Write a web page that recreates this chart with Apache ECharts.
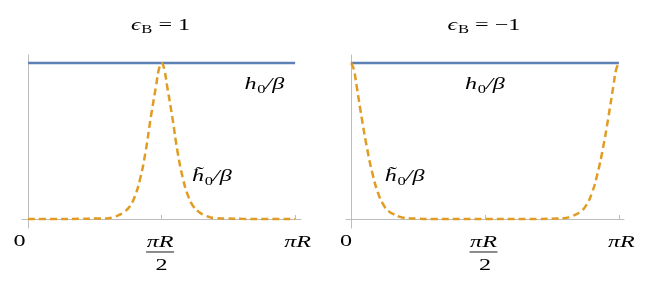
<!DOCTYPE html>
<html><head><meta charset="utf-8">
<script src="https://cdn.jsdelivr.net/npm/echarts@6/dist/echarts.min.js"></script>
<style>html,body{margin:0;padding:0;background:#fff}#c{width:654px;height:282px}</style>
</head><body><div id="c"></div>
<script>
// x in units of πR, y in units of h0/β
const xTickValues = [0, 0.5, 1];
const xTickLabels = ['0', 'πR/2', 'πR'];
const panelTitles = ['1', '−1'];
const h0X = [0, 1];
const h0Y = [1, 1];
const leftX = [0, 0.1, 0.2, 0.26, 0.3, 0.32, 0.34, 0.36, 0.38, 0.40, 0.42, 0.44, 0.46, 0.48, 0.49, 0.5, 0.51, 0.52, 0.54, 0.56, 0.58, 0.6, 0.62, 0.64, 0.66, 0.68, 0.7, 0.74, 0.8, 0.9, 1];
const leftTilde = [0, 0, 0.001, 0.003, 0.005, 0.012, 0.025, 0.045, 0.078, 0.145, 0.26, 0.43, 0.655, 0.86, 0.96, 1, 0.96, 0.86, 0.655, 0.43, 0.26, 0.145, 0.078, 0.045, 0.025, 0.012, 0.005, 0.003, 0.001, 0, 0];
const rightX = [0, 0.01, 0.02, 0.04, 0.06, 0.08, 0.10, 0.12, 0.14, 0.16, 0.18, 0.2, 0.25, 0.3, 0.5, 0.7, 0.75, 0.8, 0.82, 0.84, 0.86, 0.88, 0.9, 0.92, 0.94, 0.96, 0.98, 0.99, 1];
const rightTilde = [1, 0.96, 0.86, 0.645, 0.45, 0.29, 0.17, 0.093, 0.05, 0.03, 0.015, 0.007, 0.002, 0, 0, 0, 0.002, 0.007, 0.015, 0.03, 0.05, 0.093, 0.17, 0.29, 0.45, 0.645, 0.86, 0.96, 1];

const SERIF = "'Liberation Serif','DejaVu Serif',serif";
const TXT = '#1a1a1a';
const AX = '#bdbdbd';
const BLUE = '#5E81B5';
const ORANGE = '#E19C24';
const SX = 1.38;   // reference typesetting is horizontally wide
const FS = 17.5;
const zip = (xs, ys) => xs.map((x, i) => [x, ys[i]]);

const chart = echarts.init(document.getElementById('c'), null, {renderer: 'canvas'});

function xAxisFor(gi, min, max) {
  return {
    type: 'value', gridIndex: gi, min: min, max: max,
    axisLine: {show: true, onZero: true, lineStyle: {color: AX, width: 1}},
    axisTick: {show: true, inside: true, length: 4, customValues: [0.5, 1], lineStyle: {color: AX}},
    splitLine: {show: false},
    axisLabel: {show: false}
  };
}
function yAxisFor(gi) {
  return {
    type: 'value', gridIndex: gi, min: -0.0577, max: 1.0513,
    axisLine: {show: true, onZero: true, lineStyle: {color: AX, width: 1}},
    axisTick: {show: false}, axisLabel: {show: false}, splitLine: {show: false}
  };
}

chart.setOption({
  animation: false,
  backgroundColor: '#fff',
  grid: [
    {left: 22, top: 55, width: 279, height: 173, containLabel: false},
    {left: 346, top: 55, width: 278, height: 173, containLabel: false}
  ],
  xAxis: [xAxisFor(0, -0.0225, 1.022), xAxisFor(1, -0.019, 1.019)],
  yAxis: [yAxisFor(0), yAxisFor(1)],
  series: [
    {type: 'line', xAxisIndex: 0, yAxisIndex: 0, data: zip(h0X, h0Y), showSymbol: false, lineStyle: {color: BLUE, width: 2.4}},
    {type: 'line', xAxisIndex: 0, yAxisIndex: 0, data: zip(leftX, leftTilde), showSymbol: false, smooth: true,
     lineStyle: {color: ORANGE, width: 2.5, type: [7, 4]}},
    {type: 'line', xAxisIndex: 1, yAxisIndex: 1, data: zip(h0X, h0Y), showSymbol: false, lineStyle: {color: BLUE, width: 2.4}},
    {type: 'line', xAxisIndex: 1, yAxisIndex: 1, data: zip(rightX, rightTilde), showSymbol: false, smooth: true,
     lineStyle: {color: ORANGE, width: 2.5, type: [7, 4]}}
  ]
});

// ---- text (tick labels, titles, curve labels), placed from the axes' own scales ----
const rich = {
  i: {fontFamily: SERIF, fontStyle: 'italic', fontWeight: 'normal', fontSize: FS, lineHeight: 22, color: TXT},
  u: {fontFamily: SERIF, fontWeight: 'normal', fontSize: FS, lineHeight: 22, color: TXT},
  s: {fontFamily: SERIF, fontWeight: 'normal', fontSize: 12, lineHeight: 12, verticalAlign: 'bottom', color: TXT, padding: [0, 0, 0, 0.5]}
};
function txt(x, y, text) {
  return {type: 'text', x: x, y: y, scaleX: SX, silent: true,
          style: {text: text, rich: rich, align: 'center', verticalAlign: 'middle'}};
}
const px = (gi, xv, yv) => chart.convertToPixel({xAxisIndex: gi, yAxisIndex: gi}, [xv, yv]);
const graphics = [];
[0, 1].forEach(gi => {
  const base = px(gi, 0, 0);
  xTickValues.forEach((v, k) => {
    const s = xTickLabels[k];
    const p = px(gi, v, 0);
    if (s === '0') {
      graphics.push(txt(p[0] - (gi === 0 ? 8.5 : 5), base[1] + 22, '{u|0}'));
    } else if (s.indexOf('/') >= 0) {
      const parts = s.split('/');
      graphics.push(txt(p[0] - 1.5, base[1] + 23, '{i|' + parts[0] + '}'));
      graphics.push({type: 'line', silent: true,
        shape: {x1: p[0] - 15.5, y1: base[1] + 33, x2: p[0] + 12.5, y2: base[1] + 33},
        style: {stroke: TXT, lineWidth: 1}});
      graphics.push(txt(p[0], base[1] + 46, '{u|' + parts[1] + '}'));
    } else {
      graphics.push(txt(p[0] + 2.5, base[1] + 23, '{i|' + s + '}'));
    }
  });
  const mid = px(gi, 0.5, 1);
  graphics.push(txt(mid[0] - 1, 25, '{i|ϵ}{s|B}{u| = ' + panelTitles[gi] + '}'));
});
// curve labels at data-space anchor points
const lh = px(0, 0.885, 0.86), lt = px(0, 0.688, 0.27);
const rh = px(1, 0.5, 0.86), rt = px(1, 0.2, 0.27);
graphics.push(txt(lh[0], lh[1], '{i|h}{s|0}{i|/β}'));
graphics.push(txt(lt[0], lt[1], '{i|h\u0303}{s|0}{i|/β}'));
graphics.push(txt(rh[0], rh[1], '{i|h}{s|0}{i|/β}'));
graphics.push(txt(rt[0], rt[1], '{i|h\u0303}{s|0}{i|/β}'));
chart.setOption({graphic: graphics});
</script></body></html>
